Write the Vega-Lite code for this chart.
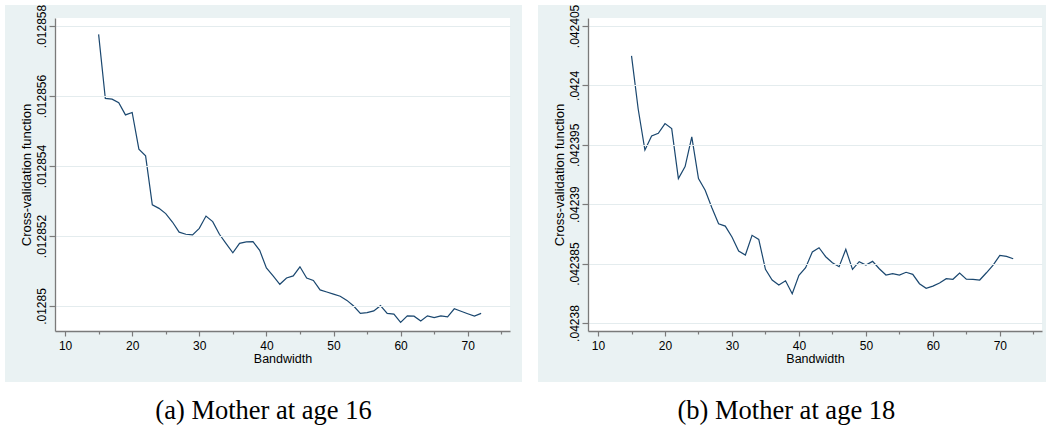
{
  "$schema": "https://vega.github.io/schema/vega-lite/v6.json",
  "background": "white",
  "padding": {"left": 5, "top": 4, "right": 0, "bottom": 0},
  "spacing": 15,
  "config": {
    "view": {"stroke": null},
    "font": "Liberation Sans"
  },
  "datasets": {
    "a": [
      {"bw": 15, "cv": 0.01285776}, {"bw": 16, "cv": 0.01285593}, {"bw": 17, "cv": 0.01285591}, {"bw": 18, "cv": 0.01285581},
      {"bw": 19, "cv": 0.01285546}, {"bw": 20, "cv": 0.01285553}, {"bw": 21, "cv": 0.01285448}, {"bw": 22, "cv": 0.01285429},
      {"bw": 23, "cv": 0.01285289}, {"bw": 24, "cv": 0.01285279}, {"bw": 25, "cv": 0.01285264}, {"bw": 26, "cv": 0.0128524},
      {"bw": 27, "cv": 0.01285211}, {"bw": 28, "cv": 0.01285205}, {"bw": 29, "cv": 0.01285203}, {"bw": 30, "cv": 0.01285222},
      {"bw": 31, "cv": 0.01285257}, {"bw": 32, "cv": 0.01285241}, {"bw": 33, "cv": 0.01285205}, {"bw": 34, "cv": 0.01285178},
      {"bw": 35, "cv": 0.01285152}, {"bw": 36, "cv": 0.01285179}, {"bw": 37, "cv": 0.01285183}, {"bw": 38, "cv": 0.01285184},
      {"bw": 39, "cv": 0.01285159}, {"bw": 40, "cv": 0.01285109}, {"bw": 41, "cv": 0.01285086}, {"bw": 42, "cv": 0.01285062},
      {"bw": 43, "cv": 0.0128508}, {"bw": 44, "cv": 0.01285086}, {"bw": 45, "cv": 0.01285112}, {"bw": 46, "cv": 0.0128508},
      {"bw": 47, "cv": 0.01285073}, {"bw": 48, "cv": 0.01285046}, {"bw": 49, "cv": 0.0128504}, {"bw": 50, "cv": 0.01285034},
      {"bw": 51, "cv": 0.01285028}, {"bw": 52, "cv": 0.01285016}, {"bw": 53, "cv": 0.01285}, {"bw": 54, "cv": 0.01284979},
      {"bw": 55, "cv": 0.01284981}, {"bw": 56, "cv": 0.01284986}, {"bw": 57, "cv": 0.01285001}, {"bw": 58, "cv": 0.01284979},
      {"bw": 59, "cv": 0.01284977}, {"bw": 60, "cv": 0.01284953}, {"bw": 61, "cv": 0.01284972}, {"bw": 62, "cv": 0.01284971},
      {"bw": 63, "cv": 0.01284957}, {"bw": 64, "cv": 0.01284972}, {"bw": 65, "cv": 0.01284967}, {"bw": 66, "cv": 0.01284972},
      {"bw": 67, "cv": 0.01284969}, {"bw": 68, "cv": 0.01284992}, {"bw": 69, "cv": 0.01284985}, {"bw": 70, "cv": 0.01284978},
      {"bw": 71, "cv": 0.01284971}, {"bw": 72, "cv": 0.01284979}
    ],
    "b": [
      {"bw": 15, "cv": 0.04240248}, {"bw": 16, "cv": 0.04239799}, {"bw": 17, "cv": 0.04239456}, {"bw": 18, "cv": 0.04239574},
      {"bw": 19, "cv": 0.04239597}, {"bw": 20, "cv": 0.04239678}, {"bw": 21, "cv": 0.04239636}, {"bw": 22, "cv": 0.04239215},
      {"bw": 23, "cv": 0.04239316}, {"bw": 24, "cv": 0.04239566}, {"bw": 25, "cv": 0.04239215}, {"bw": 26, "cv": 0.04239117},
      {"bw": 27, "cv": 0.04238971}, {"bw": 28, "cv": 0.04238836}, {"bw": 29, "cv": 0.04238816}, {"bw": 30, "cv": 0.04238724},
      {"bw": 31, "cv": 0.04238606}, {"bw": 32, "cv": 0.04238572}, {"bw": 33, "cv": 0.04238738}, {"bw": 34, "cv": 0.04238704},
      {"bw": 35, "cv": 0.04238452}, {"bw": 36, "cv": 0.04238362}, {"bw": 37, "cv": 0.0423832}, {"bw": 38, "cv": 0.04238356},
      {"bw": 39, "cv": 0.04238247}, {"bw": 40, "cv": 0.04238401}, {"bw": 41, "cv": 0.04238466}, {"bw": 42, "cv": 0.04238598},
      {"bw": 43, "cv": 0.04238634}, {"bw": 44, "cv": 0.04238558}, {"bw": 45, "cv": 0.04238508}, {"bw": 46, "cv": 0.04238474},
      {"bw": 47, "cv": 0.0423862}, {"bw": 48, "cv": 0.04238452}, {"bw": 49, "cv": 0.04238516}, {"bw": 50, "cv": 0.04238488},
      {"bw": 51, "cv": 0.04238519}, {"bw": 52, "cv": 0.04238457}, {"bw": 53, "cv": 0.04238404}, {"bw": 54, "cv": 0.04238415},
      {"bw": 55, "cv": 0.04238404}, {"bw": 56, "cv": 0.04238427}, {"bw": 57, "cv": 0.0423841}, {"bw": 58, "cv": 0.04238331},
      {"bw": 59, "cv": 0.04238292}, {"bw": 60, "cv": 0.04238311}, {"bw": 61, "cv": 0.04238337}, {"bw": 62, "cv": 0.04238373},
      {"bw": 63, "cv": 0.04238368}, {"bw": 64, "cv": 0.04238421}, {"bw": 65, "cv": 0.0423837}, {"bw": 66, "cv": 0.04238368},
      {"bw": 67, "cv": 0.04238362}, {"bw": 68, "cv": 0.04238423}, {"bw": 69, "cv": 0.04238488}, {"bw": 70, "cv": 0.0423857},
      {"bw": 71, "cv": 0.04238561}, {"bw": 72, "cv": 0.04238541}
    ]
  },
  "hconcat": [
    {
      "width": 455,
      "height": 313,
      "title": {"text": "(a) Mother at age 16", "orient": "bottom", "anchor": "middle", "frame": "bounds", "font": "Liberation Serif", "fontSize": 26.5, "fontWeight": "normal", "color": "black", "baseline": "alphabetic", "offset": 37},
      "layer": [
        {
          "data": {"values": [{}]},
          "mark": {"type": "rect", "color": "#EAF2F3"},
          "encoding": {
            "x": {"datum": 1.05, "type": "quantitative", "scale": {"domain": [8.5, 76.3], "nice": false, "zero": false},
              "axis": {"title": "Bandwidth", "zindex": 1, "values": [10, 15, 20, 25, 30, 35, 40, 45, 50, 55, 60, 65, 70, 75], "labelExpr": "datum.value % 10 == 0 ? datum.label : ''", "grid": false, "tickSize": {"condition": {"test": "datum.value % 10 == 0", "value": 5}, "value": 3}, "labelPadding": 4, "titlePadding": 1, "labelFont": "Liberation Sans", "titleFont": "Liberation Sans", "labelFontSize": 12, "titleFontSize": 12.5, "titleFontWeight": "normal", "labelColor": "black", "titleColor": "black", "domainColor": "#7a7a7a", "domainWidth": 1.3, "tickColor": "#7a7a7a", "tickWidth": 1.2}},
            "x2": {"datum": 78.09},
            "y": {"datum": 0.0128586, "type": "quantitative", "scale": {"domain": [0.012849286, 0.012858229], "nice": false, "zero": false},
              "axis": {"title": "Cross-validation function", "zindex": 1, "values": [0.01285, 0.012852, 0.012854, 0.012856, 0.012858], "labelExpr": "slice(format(datum.value, '.6~f'), 1)", "labelAngle": 270, "labelAlign": "center", "labelBaseline": "bottom", "tickSize": 6, "labelPadding": 1, "titlePadding": 2, "grid": true, "gridColor": "#E4ECEE", "gridWidth": 1, "labelFont": "Liberation Sans", "titleFont": "Liberation Sans", "labelFontSize": 12, "titleFontSize": 13, "titleFontWeight": "normal", "labelColor": "black", "titleColor": "black", "domainColor": "#7a7a7a", "domainWidth": 1.3, "tickColor": "#7a7a7a", "tickWidth": 1.2}},
            "y2": {"datum": 0.012847829}
          }
        },
        {
          "data": {"values": [{}]},
          "mark": {"type": "rect", "color": "white"},
          "encoding": {
            "x": {"datum": 8.5, "type": "quantitative", "scale": {"domain": [8.5, 76.3], "nice": false, "zero": false},
              "axis": {"title": "Bandwidth", "zindex": 1, "values": [10, 15, 20, 25, 30, 35, 40, 45, 50, 55, 60, 65, 70, 75], "labelExpr": "datum.value % 10 == 0 ? datum.label : ''", "grid": false, "tickSize": {"condition": {"test": "datum.value % 10 == 0", "value": 5}, "value": 3}, "labelPadding": 4, "titlePadding": 1, "labelFont": "Liberation Sans", "titleFont": "Liberation Sans", "labelFontSize": 12, "titleFontSize": 12.5, "titleFontWeight": "normal", "labelColor": "black", "titleColor": "black", "domainColor": "#7a7a7a", "domainWidth": 1.3, "tickColor": "#7a7a7a", "tickWidth": 1.2}},
            "x2": {"datum": 76.3},
            "y": {"datum": 0.012858229, "type": "quantitative", "scale": {"domain": [0.012849286, 0.012858229], "nice": false, "zero": false},
              "axis": {"title": "Cross-validation function", "zindex": 1, "values": [0.01285, 0.012852, 0.012854, 0.012856, 0.012858], "labelExpr": "slice(format(datum.value, '.6~f'), 1)", "labelAngle": 270, "labelAlign": "center", "labelBaseline": "bottom", "tickSize": 6, "labelPadding": 1, "titlePadding": 2, "grid": true, "gridColor": "#E4ECEE", "gridWidth": 1, "labelFont": "Liberation Sans", "titleFont": "Liberation Sans", "labelFontSize": 12, "titleFontSize": 13, "titleFontWeight": "normal", "labelColor": "black", "titleColor": "black", "domainColor": "#7a7a7a", "domainWidth": 1.3, "tickColor": "#7a7a7a", "tickWidth": 1.2}},
            "y2": {"datum": 0.012849286}
          }
        },
        {
          "data": {"name": "a"},
          "mark": {"type": "line", "color": "#1a476f", "strokeWidth": 1.2},
          "encoding": {
            "x": {"field": "bw", "type": "quantitative", "scale": {"domain": [8.5, 76.3], "nice": false, "zero": false},
              "axis": {"title": "Bandwidth", "zindex": 1, "values": [10, 15, 20, 25, 30, 35, 40, 45, 50, 55, 60, 65, 70, 75], "labelExpr": "datum.value % 10 == 0 ? datum.label : ''", "grid": false, "tickSize": {"condition": {"test": "datum.value % 10 == 0", "value": 5}, "value": 3}, "labelPadding": 4, "titlePadding": 1, "labelFont": "Liberation Sans", "titleFont": "Liberation Sans", "labelFontSize": 12, "titleFontSize": 12.5, "titleFontWeight": "normal", "labelColor": "black", "titleColor": "black", "domainColor": "#7a7a7a", "domainWidth": 1.3, "tickColor": "#7a7a7a", "tickWidth": 1.2}},
            "y": {"field": "cv", "type": "quantitative", "scale": {"domain": [0.012849286, 0.012858229], "nice": false, "zero": false},
              "axis": {"title": "Cross-validation function", "zindex": 1, "values": [0.01285, 0.012852, 0.012854, 0.012856, 0.012858], "labelExpr": "slice(format(datum.value, '.6~f'), 1)", "labelAngle": 270, "labelAlign": "center", "labelBaseline": "bottom", "tickSize": 6, "labelPadding": 1, "titlePadding": 2, "grid": true, "gridColor": "#E4ECEE", "gridWidth": 1, "labelFont": "Liberation Sans", "titleFont": "Liberation Sans", "labelFontSize": 12, "titleFontSize": 13, "titleFontWeight": "normal", "labelColor": "black", "titleColor": "black", "domainColor": "#7a7a7a", "domainWidth": 1.3, "tickColor": "#7a7a7a", "tickWidth": 1.2}}
          }
        }
      ]
    },
    {
      "width": 454,
      "height": 313,
      "title": {"text": "(b) Mother at age 18", "orient": "bottom", "anchor": "middle", "frame": "bounds", "font": "Liberation Serif", "fontSize": 26.5, "fontWeight": "normal", "color": "black", "baseline": "alphabetic", "offset": 37, "dx": -6},
      "layer": [
        {
          "data": {"values": [{}]},
          "mark": {"type": "rect", "color": "#EAF2F3"},
          "encoding": {
            "x": {"datum": 1.04, "type": "quantitative", "scale": {"domain": [8.5, 76.3], "nice": false, "zero": false},
              "axis": {"title": "Bandwidth", "zindex": 1, "values": [10, 15, 20, 25, 30, 35, 40, 45, 50, 55, 60, 65, 70, 75], "labelExpr": "datum.value % 10 == 0 ? datum.label : ''", "grid": false, "tickSize": {"condition": {"test": "datum.value % 10 == 0", "value": 5}, "value": 3}, "labelPadding": 4, "titlePadding": 1, "labelFont": "Liberation Sans", "titleFont": "Liberation Sans", "labelFontSize": 12, "titleFontSize": 12.5, "titleFontWeight": "normal", "labelColor": "black", "titleColor": "black", "domainColor": "#7a7a7a", "domainWidth": 1.3, "tickColor": "#7a7a7a", "tickWidth": 1.2}},
            "x2": {"datum": 77.0},
            "y": {"datum": 0.04240676, "type": "quantitative", "scale": {"domain": [0.04237933, 0.04240567], "nice": false, "zero": false},
              "axis": {"title": "Cross-validation function", "zindex": 1, "values": [0.04238, 0.042385, 0.04239, 0.042395, 0.0424, 0.042405], "labelExpr": "slice(format(datum.value, '.6~f'), 1)", "labelAngle": 270, "labelAlign": "center", "labelBaseline": "bottom", "tickSize": 6, "labelPadding": 1, "titlePadding": 2, "grid": true, "gridColor": "#E4ECEE", "gridWidth": 1, "labelFont": "Liberation Sans", "titleFont": "Liberation Sans", "labelFontSize": 12, "titleFontSize": 13, "titleFontWeight": "normal", "labelColor": "black", "titleColor": "black", "domainColor": "#7a7a7a", "domainWidth": 1.3, "tickColor": "#7a7a7a", "tickWidth": 1.2}},
            "y2": {"datum": 0.04237504}
          }
        },
        {
          "data": {"values": [{}]},
          "mark": {"type": "rect", "color": "white"},
          "encoding": {
            "x": {"datum": 8.5, "type": "quantitative", "scale": {"domain": [8.5, 76.3], "nice": false, "zero": false},
              "axis": {"title": "Bandwidth", "zindex": 1, "values": [10, 15, 20, 25, 30, 35, 40, 45, 50, 55, 60, 65, 70, 75], "labelExpr": "datum.value % 10 == 0 ? datum.label : ''", "grid": false, "tickSize": {"condition": {"test": "datum.value % 10 == 0", "value": 5}, "value": 3}, "labelPadding": 4, "titlePadding": 1, "labelFont": "Liberation Sans", "titleFont": "Liberation Sans", "labelFontSize": 12, "titleFontSize": 12.5, "titleFontWeight": "normal", "labelColor": "black", "titleColor": "black", "domainColor": "#7a7a7a", "domainWidth": 1.3, "tickColor": "#7a7a7a", "tickWidth": 1.2}},
            "x2": {"datum": 76.3},
            "y": {"datum": 0.04240567, "type": "quantitative", "scale": {"domain": [0.04237933, 0.04240567], "nice": false, "zero": false},
              "axis": {"title": "Cross-validation function", "zindex": 1, "values": [0.04238, 0.042385, 0.04239, 0.042395, 0.0424, 0.042405], "labelExpr": "slice(format(datum.value, '.6~f'), 1)", "labelAngle": 270, "labelAlign": "center", "labelBaseline": "bottom", "tickSize": 6, "labelPadding": 1, "titlePadding": 2, "grid": true, "gridColor": "#E4ECEE", "gridWidth": 1, "labelFont": "Liberation Sans", "titleFont": "Liberation Sans", "labelFontSize": 12, "titleFontSize": 13, "titleFontWeight": "normal", "labelColor": "black", "titleColor": "black", "domainColor": "#7a7a7a", "domainWidth": 1.3, "tickColor": "#7a7a7a", "tickWidth": 1.2}},
            "y2": {"datum": 0.04237933}
          }
        },
        {
          "data": {"name": "b"},
          "mark": {"type": "line", "color": "#1a476f", "strokeWidth": 1.2},
          "encoding": {
            "x": {"field": "bw", "type": "quantitative", "scale": {"domain": [8.5, 76.3], "nice": false, "zero": false},
              "axis": {"title": "Bandwidth", "zindex": 1, "values": [10, 15, 20, 25, 30, 35, 40, 45, 50, 55, 60, 65, 70, 75], "labelExpr": "datum.value % 10 == 0 ? datum.label : ''", "grid": false, "tickSize": {"condition": {"test": "datum.value % 10 == 0", "value": 5}, "value": 3}, "labelPadding": 4, "titlePadding": 1, "labelFont": "Liberation Sans", "titleFont": "Liberation Sans", "labelFontSize": 12, "titleFontSize": 12.5, "titleFontWeight": "normal", "labelColor": "black", "titleColor": "black", "domainColor": "#7a7a7a", "domainWidth": 1.3, "tickColor": "#7a7a7a", "tickWidth": 1.2}},
            "y": {"field": "cv", "type": "quantitative", "scale": {"domain": [0.04237933, 0.04240567], "nice": false, "zero": false},
              "axis": {"title": "Cross-validation function", "zindex": 1, "values": [0.04238, 0.042385, 0.04239, 0.042395, 0.0424, 0.042405], "labelExpr": "slice(format(datum.value, '.6~f'), 1)", "labelAngle": 270, "labelAlign": "center", "labelBaseline": "bottom", "tickSize": 6, "labelPadding": 1, "titlePadding": 2, "grid": true, "gridColor": "#E4ECEE", "gridWidth": 1, "labelFont": "Liberation Sans", "titleFont": "Liberation Sans", "labelFontSize": 12, "titleFontSize": 13, "titleFontWeight": "normal", "labelColor": "black", "titleColor": "black", "domainColor": "#7a7a7a", "domainWidth": 1.3, "tickColor": "#7a7a7a", "tickWidth": 1.2}}
          }
        }
      ]
    }
  ]
}
